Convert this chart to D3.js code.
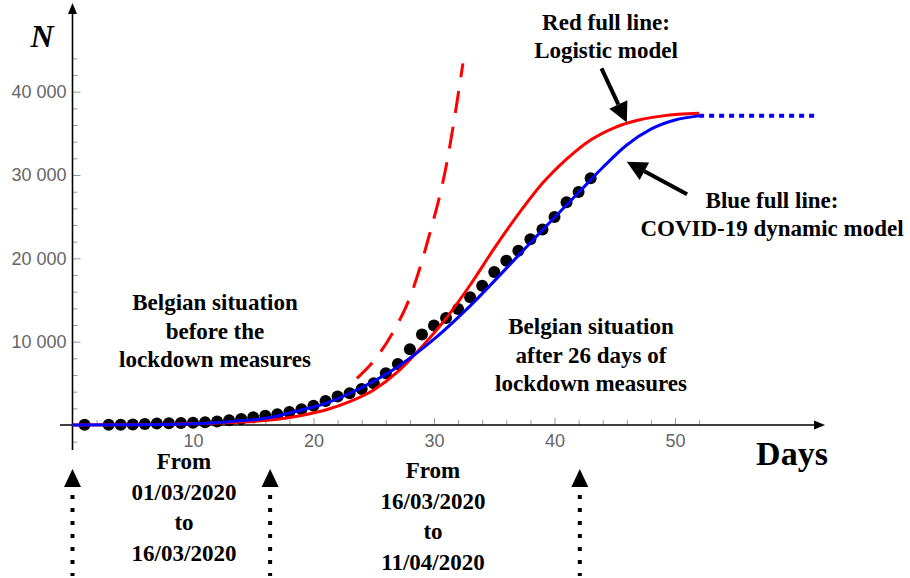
<!DOCTYPE html>
<html>
<head>
<meta charset="utf-8">
<script src="https://cdn.jsdelivr.net/npm/d3@7"></script>
<style>
  body { margin: 0; background: #fff; }
  svg { display: block; }
  .note { font-family: "Liberation Serif", "Times New Roman", serif; font-weight: bold; font-size: 23px; text-anchor: middle; fill: #000; }
  .tick text { font-family: "Liberation Sans", Arial, sans-serif; font-size: 18px; fill: #666; }
  .tick line { stroke: #999; }
</style>
</head>
<body>
<div class="canvas"></div>
<script>

const dayNum = [1,3,4,5,6,7,8,9,10,11,12,13,14,15,16,17,18,19,20,21,22,23,24,25,26,27,28,29,30,31,32,33,34,35,36,37,38,39,40,41,42,43];
const totalCases = [20,20,30,60,110,170,200,240,280,320,420,570,720,920,1100,1300,1560,1880,2320,2880,3420,3800,4320,5000,6220,7320,9100,10860,11950,12850,13920,15330,16720,18350,19700,20900,22300,23460,24950,26730,27970,29620];

// red full line (logistic model), sampled along the drawn curve
const logisticDays = [0,5,10,14,17,19,21,23,25,27,29,31,33,35,37,39,41,43,45,47,49,52];
const logisticN = [15,45,140,350,700,1150,1800,2800,4200,6400,9400,12800,16800,21200,25300,29000,31900,34200,35700,36600,37100,37400];

// blue full line (COVID-19 dynamic model)
const modelDays = [0,5,10,13,16,19,21,24,27,30,33,36,39,42,44,46,48,50,52];
const modelN = [0,30,150,400,800,1800,2600,4500,7000,10300,14300,18800,23400,27900,30900,33600,35500,36600,37100];

// blue dotted continuation (plateau)
const plateauDays = [52, 61.6];
const plateauN = [37100, 37100];

// red dashed line (exponential phase)
const expDays = [23.6,25,26.5,28,29.5,31,32.4];
const expN = [5600,7700,10900,15300,22200,31000,43400];

// axis ticks
const xMajor = [10,20,30,40,50];
const xMinor = [2,4,6,8,12,14,16,18,22,24,26,28,32,34,36,38,42,44,46,48,52];
const yMajor = [10000,20000,30000,40000];
const yMinor = [-2000,2000,4000,6000,8000,12000,14000,16000,18000,22000,24000,26000,28000,32000,34000,36000,38000,42000,44000];

// bottom markers (days) and date blocks
const markDays = [0, 16.4, 42.1];
const leftDates = ["From", "01/03/2020", "to", "16/03/2020"];
const rightDates = ["From", "16/03/2020", "to", "11/04/2020"];

const W = 910, H = 578;
const svg = d3.select('.canvas')
  .append('svg')
    .attr('width', W)
    .attr('height', H);

const x = d3.scaleLinear().domain([0, 50]).range([72.5, 675]);
const y = d3.scaleLinear().domain([0, 40000]).range([425, 91.7]);

const fmt = d => d3.format(",")(d).replace(",", " ");

// y axis ticks
svg.append('g')
  .attr('transform', `translate(${x(0)},0)`)
  .call(d3.axisLeft(y).tickValues(yMinor).tickSize(-5).tickFormat(''))
  .call(g => g.select('.domain').remove());
svg.append('g')
  .attr('transform', `translate(${x(0)},0)`)
  .call(d3.axisLeft(y).tickValues(yMajor).tickSize(-8).tickPadding(6).tickFormat(fmt))
  .call(g => g.select('.domain').remove());

// x axis ticks
svg.append('g')
  .attr('transform', `translate(0,${y(0)})`)
  .call(d3.axisBottom(x).tickValues(xMinor).tickSize(-5).tickFormat(''))
  .call(g => g.select('.domain').remove());
svg.append('g')
  .attr('transform', `translate(0,${y(0)})`)
  .call(d3.axisBottom(x).tickValues(xMajor).tickSize(-7).tickPadding(9).tickFormat(d3.format('d')))
  .call(g => g.select('.domain').remove());

// axis lines with arrow heads
const x0 = x(0), y0 = y(0);
svg.append('line').attr('x1', x0).attr('x2', x0).attr('y1', 450).attr('y2', 12)
  .attr('stroke', '#000').attr('stroke-width', 1.6);
svg.append('path').attr('d', `M${x0},3 L${x0-4.5},14 L${x0+4.5},14 Z`).attr('fill', '#000');
svg.append('line').attr('x1', 60).attr('x2', 816).attr('y1', y0).attr('y2', y0)
  .attr('stroke', '#000').attr('stroke-width', 1.6);
svg.append('path').attr('d', `M825,${y0} L814,${y0-4.5} L814,${y0+4.5} Z`).attr('fill', '#000');

// axis titles
svg.append('text').text('N')
  .attr('x', 42).attr('y', 47)
  .attr('text-anchor', 'middle')
  .style('font-family', '"Liberation Serif", "Times New Roman", serif')
  .style('font-weight', 'bold').style('font-style', 'italic').style('font-size', '32px');
svg.append('text').text('Days')
  .attr('x', 792).attr('y', 465)
  .attr('text-anchor', 'middle')
  .style('font-family', '"Liberation Serif", "Times New Roman", serif')
  .style('font-weight', 'bold').style('font-size', '34px');

// data dots
svg.append('g').selectAll('circle')
  .data(dayNum)
  .enter()
  .append('circle')
    .attr('cx', d => x(d))
    .attr('cy', (d, i) => y(totalCases[i]))
    .attr('r', 6)
    .attr('fill', '#000');

const line = d3.line()
  .x(d => x(d[0]))
  .y(d => y(d[1]))
  .curve(d3.curveMonotoneX);

// red dashed exponential
svg.append('path')
  .attr('d', line(d3.zip(expDays, expN)))
  .attr('fill', 'none').attr('stroke', '#ff0000').attr('stroke-width', 3)
  .attr('stroke-dasharray', '22,14');

// red logistic
svg.append('path')
  .attr('d', line(d3.zip(logisticDays, logisticN)))
  .attr('fill', 'none').attr('stroke', '#ff0000').attr('stroke-width', 3);

// blue model
svg.append('path')
  .attr('d', line(d3.zip(modelDays, modelN)))
  .attr('fill', 'none').attr('stroke', '#0000ff').attr('stroke-width', 3);

// blue dotted plateau
svg.append('path')
  .attr('d', line(d3.zip(plateauDays, plateauN)))
  .attr('fill', 'none').attr('stroke', '#0000ff').attr('stroke-width', 4)
  .attr('stroke-dasharray', '5,5');

// annotation arrows (in data coords)
function arrow(d1, n1, d2, n2) {
  const x1 = x(d1), y1 = y(n1), x2 = x(d2), y2 = y(n2);
  const a = Math.atan2(y2 - y1, x2 - x1);
  const L = 20, hw = 10;
  const bx = x2 - L * Math.cos(a), by = y2 - L * Math.sin(a);
  svg.append('line')
    .attr('x1', x1).attr('y1', y1).attr('x2', bx).attr('y2', by)
    .attr('stroke', '#000').attr('stroke-width', 4);
  svg.append('path')
    .attr('d', `M${x2},${y2} L${bx + hw*Math.sin(a)},${by - hw*Math.cos(a)} L${bx - hw*Math.sin(a)},${by + hw*Math.cos(a)} Z`)
    .attr('fill', '#000');
}
arrow(43.9, 42800, 46, 36300);
arrow(51, 27700, 46, 31600);

// text notes
function note(lines, cx, y1, step) {
  lines.forEach((t, i) => {
    svg.append('text').attr('class', 'note')
      .attr('x', cx).attr('y', y1 + i * step)
      .text(t);
  });
}
note(["Red full line:", "Logistic model"], 606, 30, 28);
note(["Blue full line:", "COVID-19 dynamic model"], 772, 208, 28);
note(["Belgian situation", "before the", "lockdown measures"], 215, 310, 28.5);
note(["Belgian situation", "after 26 days of", "lockdown measures"], 591, 334, 28.5);
note(leftDates, 184, 469, 30.5);
note(rightDates, 433, 478, 30.5);

// bottom markers: up triangle + dotted line
markDays.forEach(d => {
  const cx = x(d);
  svg.append('path')
    .attr('d', `M${cx},469 L${cx-8.5},487 L${cx+8.5},487 Z`)
    .attr('fill', '#000');
  svg.append('line')
    .attr('x1', cx).attr('x2', cx).attr('y1', 495).attr('y2', 576)
    .attr('stroke', '#000').attr('stroke-width', 4)
    .attr('stroke-dasharray', '4,9');
});

</script>
</body>
</html>
